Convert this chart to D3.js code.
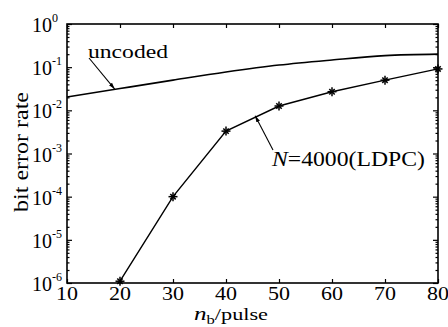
<!DOCTYPE html>
<html>
<head>
<meta charset="utf-8">
<script src="https://cdn.jsdelivr.net/npm/d3@7"></script>
<style>
  body { margin: 0; background: #fff; }
  svg { display: block; }
  text { font-family: "Liberation Serif", "DejaVu Serif", serif; fill: #000; }
</style>
</head>
<body>
<svg id="chart"></svg>
<script>
// values
var nb = [10, 20, 30, 40, 50, 60, 70, 80];
var uncodedBer = [0.0204, 0.032, 0.05, 0.077, 0.112, 0.147, 0.185, 0.2];
var ldpcBer = [null, 1.1e-6, 1.0e-4, 3.3e-3, 1.26e-2, 2.7e-2, 5.0e-2, 9.1e-2];
var xTicks = [10, 20, 30, 40, 50, 60, 70, 80];
var yExponents = [0, -1, -2, -3, -4, -5, -6];

var config = {
    width: 448,
    height: 327,
    marginLeft: 67,
    marginTop: 24,
    plotWidth: 371,
    plotHeight: 259
};

var svg = d3.select('#chart')
    .attr('width', config.width)
    .attr('height', config.height);

var x = d3.scaleLinear().domain([10, 80]).range([0, config.plotWidth]);
var y = d3.scaleLog().domain([1e-6, 1]).range([config.plotHeight, 0]);

var g = svg.append('g')
    .attr('transform', 'translate(' + config.marginLeft + ',' + config.marginTop + ')');

// the scanned figure has wide lettering: squeeze/stretch a text to a given width
function fitWidth(wrap, w) {
    var t = wrap.select('text');
    var natural = t.node().getComputedTextLength();
    t.attr('transform', 'scale(' + (w / natural) + ',1)');
}

// frame
g.append('rect')
    .attr('width', config.plotWidth)
    .attr('height', config.plotHeight)
    .attr('fill', 'none')
    .attr('stroke', '#000')
    .attr('stroke-width', 1.6);

// inward ticks, bottom + top
var xAxisBottom = d3.axisBottom(x).tickValues(xTicks).tickSizeInner(-4).tickSizeOuter(0).tickFormat('');
var xAxisTop = d3.axisTop(x).tickValues(xTicks).tickSizeInner(-4).tickSizeOuter(0).tickFormat('');
g.append('g').attr('transform', 'translate(0,' + config.plotHeight + ')').call(xAxisBottom);
g.append('g').call(xAxisTop);

// log ticks, major + minor, left + right
var minor = [];
yExponents.forEach(function(e) {
    if (e === 0) return;
    for (var k = 2; k <= 9; k++) minor.push(k * Math.pow(10, e));
});
var majors = yExponents.map(function(e) { return Math.pow(10, e); });

g.append('g').call(d3.axisLeft(y).tickValues(majors).tickSizeInner(-5).tickSizeOuter(0).tickFormat(''));
g.append('g').call(d3.axisLeft(y).tickValues(minor).tickSizeInner(-2.5).tickSizeOuter(0).tickFormat(''));
g.append('g').attr('transform', 'translate(' + config.plotWidth + ',0)')
    .call(d3.axisRight(y).tickValues(majors).tickSizeInner(-5).tickSizeOuter(0).tickFormat(''));
g.append('g').attr('transform', 'translate(' + config.plotWidth + ',0)')
    .call(d3.axisRight(y).tickValues(minor).tickSizeInner(-2.5).tickSizeOuter(0).tickFormat(''));

g.selectAll('.domain').remove();
g.selectAll('.tick line').attr('stroke', '#000').attr('stroke-width', 1.2);

// x tick labels
g.selectAll('.xlab')
    .data(xTicks)
    .enter()
    .append('g')
    .attr('class', 'xlab')
    .attr('transform', function(d) { return 'translate(' + x(d) + ',' + (config.plotHeight + 17) + ')'; })
    .each(function(d) {
        var w = d3.select(this);
        w.append('text')
            .attr('text-anchor', 'middle')
            .attr('font-size', 18)
            .text(d);
        fitWidth(w, 22);
    });

// y tick labels 10^e, superscript hangs right of the "10"
var ylab = g.selectAll('.ylab')
    .data(yExponents)
    .enter()
    .append('text')
    .attr('class', 'ylab')
    .attr('x', -35)
    .attr('y', function(d) { return y(Math.pow(10, d)) + 8; })
    .attr('font-size', 20);
ylab.append('tspan').text('10');
ylab.append('tspan')
    .attr('font-size', 12)
    .attr('dy', -10)
    .text(function(d) { return d === 0 ? '0' : '-' + (-d); });

// lines
var uncodedPts = nb.map(function(v, i) { return [v, uncodedBer[i]]; });
var ldpcPts = nb.map(function(v, i) { return [v, ldpcBer[i]]; }).filter(function(d) { return d[1] !== null; });

g.append('path')
    .datum(uncodedPts)
    .attr('d', d3.line().curve(d3.curveMonotoneX)
        .x(function(d) { return x(d[0]); })
        .y(function(d) { return y(d[1]); }))
    .attr('fill', 'none')
    .attr('stroke', '#000')
    .attr('stroke-width', 1.6);

g.append('path')
    .datum(ldpcPts)
    .attr('d', d3.line().x(function(d) { return x(d[0]); }).y(function(d) { return y(d[1]); }))
    .attr('fill', 'none')
    .attr('stroke', '#000')
    .attr('stroke-width', 1.4);

// asterisk markers
var star = g.selectAll('.star')
    .data(ldpcPts)
    .enter()
    .append('g')
    .attr('class', 'star')
    .attr('transform', function(d) { return 'translate(' + x(d[0]) + ',' + y(d[1]) + ')'; });
var s = 4.5;
[[-s, 0, s, 0], [0, -s, 0, s], [-s * 0.6, -s * 0.6, s * 0.6, s * 0.6], [-s * 0.6, s * 0.6, s * 0.6, -s * 0.6]]
    .forEach(function(c) {
        star.append('line')
            .attr('x1', c[0]).attr('y1', c[1]).attr('x2', c[2]).attr('y2', c[3])
            .attr('stroke', '#000').attr('stroke-width', 1.5);
    });

// annotations
svg.append('defs').append('marker')
    .attr('id', 'arrow')
    .attr('viewBox', '0 0 10 10')
    .attr('refX', 10).attr('refY', 5)
    .attr('markerWidth', 6).attr('markerHeight', 6)
    .attr('orient', 'auto')
    .append('path')
    .attr('d', 'M0,2 L10,5 L0,8 Z')
    .attr('fill', '#000');

function annotate(xv, yv, tx, ty) {
    g.append('line')
        .attr('x1', tx).attr('y1', ty)
        .attr('x2', x(xv)).attr('y2', y(yv))
        .attr('stroke', '#000')
        .attr('stroke-width', 1.1)
        .attr('marker-end', 'url(#arrow)');
}
annotate(19, 0.031, 89 - config.marginLeft, 58 - config.marginTop);
annotate(45.5, 7.5e-3, 273 - config.marginLeft, 150 - config.marginTop);

var unc = svg.append('g').attr('transform', 'translate(88,58)');
unc.append('text').attr('font-size', 19).text('uncoded');
fitWidth(unc, 80);

var ldpc = svg.append('g').attr('transform', 'translate(272,166)');
var nt = ldpc.append('text').attr('font-size', 21);
nt.append('tspan').attr('font-style', 'italic').text('N');
nt.append('tspan').text('=4000(LDPC)');
fitWidth(ldpc, 153);

// axis titles
var xtWrap = svg.append('g').attr('transform', 'translate(194,320)');
var xt = xtWrap.append('text').attr('font-size', 16);
xt.append('tspan').attr('font-style', 'italic').attr('font-size', 18).text('n');
xt.append('tspan').attr('font-size', 12).attr('dy', 4).text('b');
xt.append('tspan').attr('dy', -4).text('/pulse');
fitWidth(xtWrap, 74);

var ytWrap = svg.append('g').attr('transform', 'translate(28,152) rotate(-90)');
ytWrap.append('text')
    .attr('text-anchor', 'middle')
    .attr('font-size', 21)
    .text('bit error rate');
fitWidth(ytWrap, 120);
</script>
</body>
</html>
